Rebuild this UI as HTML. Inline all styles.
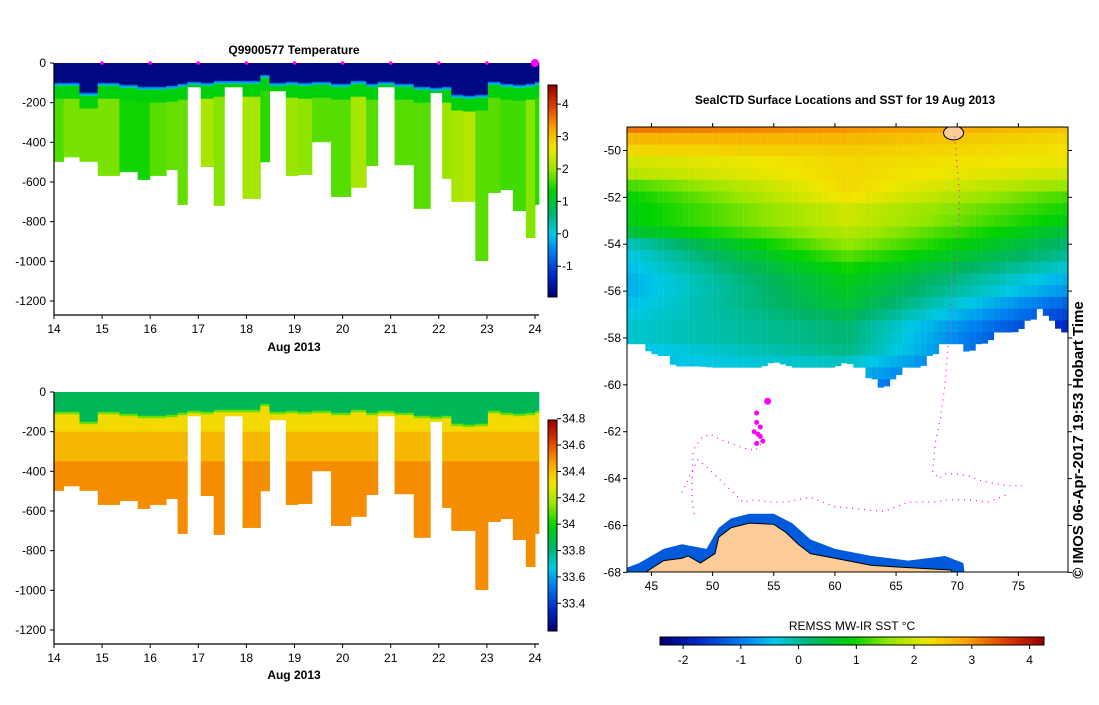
<!DOCTYPE html>
<html><head><meta charset="utf-8"><style>
body{margin:0;background:#fff}
svg text{font-family:"Liberation Sans",sans-serif;font-size:12px;fill:#000}
.b{font-weight:bold}
</style></head><body>
<svg id="s" width="1099" height="700" viewBox="0 0 1099 700">
<defs><clipPath id="mapclip"><rect x="627" y="127" width="441" height="445"/></clipPath></defs>
<text class="b" x="294" y="54" text-anchor="middle">Q9900577  Temperature</text>
<text class="b" x="294" y="351" text-anchor="middle">Aug 2013</text>
<text class="b" x="294" y="679" text-anchor="middle">Aug 2013</text>
<text class="b" x="845" y="104" text-anchor="middle">SealCTD Surface Locations and SST for 19 Aug 2013</text>
<text x="852" y="630" text-anchor="middle">REMSS MW-IR SST °C</text>
<text class="b" x="0" y="0" transform="translate(1083,440) rotate(-90)" text-anchor="middle" style="font-size:15px">© IMOS 06-Apr-2017 19:53 Hobart Time</text>
</svg>
<script>
// ---- profile data ----
const colStart=[14.0,14.2,14.53,14.91,15.36,15.74,15.99,16.33,16.57,16.77,17.05,17.32,17.54,17.92,18.29,18.48,18.82,19.07,19.36,19.76,20.17,20.49,20.73,21.08,21.48,21.82,22.07,22.26,22.51,22.76,23.02,23.28,23.54,23.81,24.0];
const colEnd=[14.2,14.53,14.91,15.36,15.74,15.99,16.33,16.57,16.77,17.05,17.32,17.54,17.92,18.29,18.48,18.82,19.07,19.36,19.76,20.17,20.49,20.73,21.08,21.48,21.82,22.07,22.26,22.51,22.76,23.02,23.28,23.54,23.81,24.0,24.08];
const maxDepth=[497,474,497,568,548,588,568,538,714,121,523,719,121,684,499,141,568,563,398,674,628,518,121,514,734,150,583,699,699,997,654,639,745,881,714];
const mixedDepth=[100,100,150,100,110,120,120,115,105,95,100,90,90,90,60,100,95,100,95,105,90,105,95,105,120,125,120,160,165,160,95,105,110,105,95];
const deepTemp=[1.65,1.85,1.85,1.85,1.4,1.4,1.7,1.75,1.75,1.3,2.1,1.9,1.3,2.1,1.5,1.3,2.0,1.95,1.7,1.7,2.1,1.7,1.3,1.7,1.7,1.3,2.0,2.1,2.2,1.7,1.7,1.6,1.6,1.9,1.5];
const depthTicks=[0,-200,-400,-600,-800,-1000,-1200];
const dayTicks=[14,15,16,17,18,19,20,21,22,23,24];
const tempBarTicks=[4,3,2,1,0,-1];
const salBarTicks=[34.8,34.6,34.4,34.2,34,33.8,33.6,33.4];
// ---- map data ----
const latRows=[-49,-49.5,-50,-50.5,-51,-51.5,-52,-52.5,-53,-53.5,-54,-54.5,-55,-55.5,-56,-56.5,-57,-57.5,-58,-58.5,-59,-59.5,-60,-60.5];
const sstWest=[3.2,2.7,2.4,2.0,1.8,1.2,0.9,0.8,0.8,0.5,-0.2,-0.4,-0.5,-0.6,-0.6,-0.5,-0.4,-0.3,-0.3,-0.5,-0.5,-0.5,-0.5,-0.5];
const sstMid=[3.0,2.7,2.5,2.4,2.4,2.4,2.3,2.0,2.0,1.8,1.6,1.3,1.0,0.8,0.7,0.6,0.4,0.2,0.2,0.1,-0.2,-0.5,-0.8,-0.8];
const sstEast=[2.6,2.4,2.3,2.2,2.0,1.6,1.2,1.0,0.8,0.5,0.2,0.0,-0.3,-0.6,-0.8,-1.2,-1.5,-1.8,-2.0,-2.0,-2.0,-2.0,-2.0,-2.0];
const iceLon=[43,45,47,49,51,53,55,57,59,61,63,64,65,67,69,71,73,75,77,79];
const iceLat=[-58.2,-58.6,-59.2,-59.2,-59.3,-59.5,-59.0,-59.3,-59.5,-59.0,-59.8,-60.2,-59.6,-59.3,-58.3,-58.6,-58.0,-57.7,-56.9,-58.0];
const landLon=[43,44.5,46,47.5,48,49,50.2,50.5,51.5,53,55,56,57,58,60,63,66,69.5,69.6,43];
const landLat=[-68,-68,-67.5,-67.4,-67.3,-67.6,-67.2,-66.5,-66.1,-65.9,-65.95,-66.3,-66.8,-67.2,-67.4,-67.7,-67.8,-67.9,-68,-68];
const coastLon=[43,44,46,47.5,48.5,49.5,50.5,51.5,53,55,56.5,58,60,63,66,69,70.5,70.6,43];
const coastLat=[-67.8,-67.6,-67.0,-66.8,-66.9,-67.0,-66.1,-65.7,-65.5,-65.5,-65.9,-66.6,-67.0,-67.3,-67.5,-67.3,-67.6,-68,-68];
const trackLon=[69.8,70.2,70.0,69.6,69.3,69.0,68.6,68.2,68.0,68.5,69.0,70,71,72,73,74,75.3];
const trackLat=[-49.4,-52,-54,-56,-58,-60,-61.5,-62.5,-63.7,-64,-63.8,-63.8,-63.9,-64.1,-64.2,-64.3,-64.3];
const track2Lon=[47.5,48.2,48.8,49.5,50.5,51.5,52.5,53.5,54.5,56,58,60,62,64,66,68,69.5,71,72.5,74];
const track2Lat=[-64.6,-63.8,-63.2,-63.5,-64.0,-64.5,-65.0,-64.9,-65.0,-65.0,-64.8,-65.2,-65.3,-65.4,-65.0,-65.0,-64.9,-64.9,-65.0,-64.7];
const track3Lon=[48.5,48.3,48.4,49.0,49.8,50.5,51.5,52.5,53.5,54.0];
const track3Lat=[-65.5,-64.8,-62.8,-62.3,-62.1,-62.3,-62.5,-62.7,-62.8,-62.5];
const dotLon=[54.5,53.6,53.6,53.9,53.4,53.7,53.9,54.1,53.6];
const dotLat=[-60.7,-61.2,-61.6,-61.8,-62.0,-62.1,-62.2,-62.4,-62.5];
const mapLonTicks=[45,50,55,60,65,70,75];
const mapLatTicks=[-50,-52,-54,-56,-58,-60,-62,-64,-66,-68];
const sstBarTicks=[-2,-1,0,1,2,3,4];

const NS='http://www.w3.org/2000/svg';const svg=document.getElementById('s');
function mk(tag,attrs,parent){const e=document.createElementNS(NS,tag);for(const k in attrs)e.setAttribute(k,attrs[k]);(parent||svg).appendChild(e);return e;}
const stops=[[0,0,0,110],[0.1,0,40,200],[0.22,0,130,240],[0.3,0,200,230],[0.4,0,180,100],[0.5,0,210,0],[0.6,150,230,0],[0.7,240,230,0],[0.8,250,160,0],[0.9,220,60,0],[1,150,0,0]];
function cmap(t){t=Math.max(0,Math.min(1,t));for(let i=1;i<stops.length;i++){if(t<=stops[i][0]){const a=stops[i-1],b=stops[i],f=(t-a[0])/(b[0]-a[0]);return 'rgb('+[1,2,3].map(j=>Math.round(a[j]+(b[j]-a[j])*f)).join(',')+')';}}return 'rgb(150,0,0)';}
const tT=v=>(v+1.95)/6.54, tS=v=>(v-33.19)/1.6, tSST=v=>(v+2.4)/6.65;

function section(top,kind){
  const L=54,R=539,B=top+252;
  const xs=d=>54+(d-14)*48.1, ys=z=>top+z*0.1983;
  const g=mk('g',{});
  
  
  for(let i=0;i<colStart.length;i++){
    const x0=xs(colStart[i]),w=xs(colEnd[i])-x0+0.5,m=mixedDepth[i],md=maxDepth[i];
    let layers;
    if(kind==='temp') layers=[[0,m,-1.8],[m,m+8,-0.6],[m+8,m+16,0.2],[m+16,Math.min(md,m+80),1.25],[m+80,md,deepTemp[i]]];
    else layers=[[0,m,33.85],[m,m+12,34.1],[m+12,200,34.34],[200,350,34.42],[350,md,34.5]];
    for(const [a,b,v] of layers){ if(b<=a||a>=md) continue;
      const r=mk('rect',{x:x0,y:ys(a),width:w,height:ys(Math.min(b,md))-ys(a)+0.3,fill:cmap(kind==='temp'?tT(v):tS(v))},g);
      
      
    }
  }
  mk('path',{d:`M${L} ${top}V${B}H${R}`,stroke:'#000',fill:'none','stroke-width':1.2});
  for(const z of depthTicks){const y=ys(-z);mk('line',{x1:L-4,x2:L,y1:y,y2:y,stroke:'#000'});
    const t=mk('text',{x:L-8,y:y+4,'text-anchor':'end'});t.textContent=z;
    
    }
  for(const d of dayTicks){const x=xs(d);mk('line',{x1:x,x2:x,y1:B,y2:B+4,stroke:'#000'});
    const t=mk('text',{x:x,y:B+18,'text-anchor':'middle'});t.textContent=d;
    
    
    if(kind==='temp'&&d>14){const c=mk('circle',{cx:x,cy:top,r:d===24?4:1.8,fill:'#f0f'});
      
      }}
}
section(63,'temp');section(392,'sal');

function vbar(x,y0,y1,vmin,vmax,tf,ticks,name){
  const n=80,h=(y1-y0)/n;
  for(let i=0;i<n;i++){const v=vmax-(i+0.5)*(vmax-vmin)/n;mk('rect',{x:x,y:y0+i*h,width:9,height:h+0.5,fill:cmap(tf(v))});}
  const fr=mk('rect',{x:x,y:y0,width:9,height:y1-y0,fill:'none',stroke:'#000'});
  
  
  for(const v of ticks){const y=y0+(vmax-v)/(vmax-vmin)*(y1-y0);mk('line',{x1:x+9,x2:x+13,y1:y,y2:y,stroke:'#000'});
    const t=mk('text',{x:x+14,y:y+4});t.textContent=v;
    
    }
}
vbar(548,85,297,-1.95,4.59,tT,tempBarTicks,'temp-colorbar');
vbar(548,420,631,33.19,34.79,tS,salBarTicks,'sal-colorbar');

// ---- map ----
const mx=l=>627+(l-43)*12.23, my=la=>127+(-49-la)*23.44;
function interp(xa,ya,x){for(let i=1;i<xa.length;i++){if(x<=xa[i]){const f=(x-xa[i-1])/(xa[i]-xa[i-1]);return ya[i-1]+(ya[i]-ya[i-1])*f;}}return ya[ya.length-1];}
const mg=mk('g',{'clip-path':'url(#mapclip)'});


for(let lon=43;lon<79.1;lon+=0.5){
  const edge=interp(iceLon,iceLat,lon+0.25);
  for(let j=0;j<latRows.length;j++){
    const la=latRows[j]; if(la-0.5<edge-0.01 && la<=edge) continue;
    let v;const c=lon+0.25;
    if(c<=61){const f=(c-43)/18;v=sstWest[j]+(sstMid[j]-sstWest[j])*f;}else{const f=(c-61)/18;v=sstMid[j]+(sstEast[j]-sstMid[j])*f;}
    const lat0=(j===0?-49:la+0.25), lat1=Math.max(la-0.25,edge);
    if(lat1>=lat0) continue;
    mk('rect',{x:mx(lon),y:my(lat0),width:6.3,height:my(lat1)-my(lat0)+0.4,fill:cmap(tSST(v))},mg);
  }
}
function poly(lons,lats,attrs,name){const p=mk('polygon',Object.assign({points:lons.map((l,i)=>mx(l)+','+my(lats[i])).join(' ')},attrs),mg);
  
  return p;}
poly(coastLon,coastLat,{fill:'rgb(0,90,220)'},'coastal-sst');
poly(landLon,landLat,{fill:'#fccb97',stroke:'#000','stroke-width':1},'antarctica-land');
const isl=mk('ellipse',{cx:mx(69.7),cy:my(-49.25),rx:10,ry:7,fill:'#fccb97',stroke:'#000'},mg);


for(const [lo,la,nm] of [[trackLon,trackLat,'seal-track-east'],[track2Lon,track2Lat,'seal-track-south'],[track3Lon,track3Lat,'seal-track-west']]){
  const p=mk('polyline',{points:lo.map((l,i)=>mx(l)+','+my(la[i])).join(' '),fill:'none',stroke:'#f0f','stroke-width':1.2,'stroke-dasharray':'1 5'});
  
  }
for(let i=0;i<dotLon.length;i++){const c=mk('circle',{cx:mx(dotLon[i]),cy:my(dotLat[i]),r:i===0?3.5:2.5,fill:'#f0f'});
  
  }
const fr=mk('rect',{x:627,y:127,width:441,height:445,fill:'none',stroke:'#000'});


for(const l of mapLonTicks){const x=mx(l);mk('line',{x1:x,x2:x,y1:572,y2:576,stroke:'#000'});mk('line',{x1:x,x2:x,y1:123,y2:127,stroke:'#000'});
  const t=mk('text',{x:x,y:590,'text-anchor':'middle'});t.textContent=l;
  
  }
for(const la of mapLatTicks){const y=my(la);mk('line',{x1:623,x2:627,y1:y,y2:y,stroke:'#000'});mk('line',{x1:1068,x2:1072,y1:y,y2:y,stroke:'#000'});
  const t=mk('text',{x:621,y:y+4,'text-anchor':'end'});t.textContent=la;
  
  }
// horizontal SST bar
const bx=v=>660+(v+2.4)/6.65*384;
for(let i=0;i<96;i++){const v=-2.4+(i+0.5)*6.65/96;mk('rect',{x:660+i*4,y:637,width:4.5,height:8,fill:cmap(tSST(v))});}
const sb=mk('rect',{x:660,y:637,width:384,height:8,fill:'none',stroke:'#000'});


for(const v of sstBarTicks){const x=bx(v);mk('line',{x1:x,x2:x,y1:645,y2:649,stroke:'#000'});
  const t=mk('text',{x:x,y:664,'text-anchor':'middle'});t.textContent=v;
  
  }
</script>
</body></html>
